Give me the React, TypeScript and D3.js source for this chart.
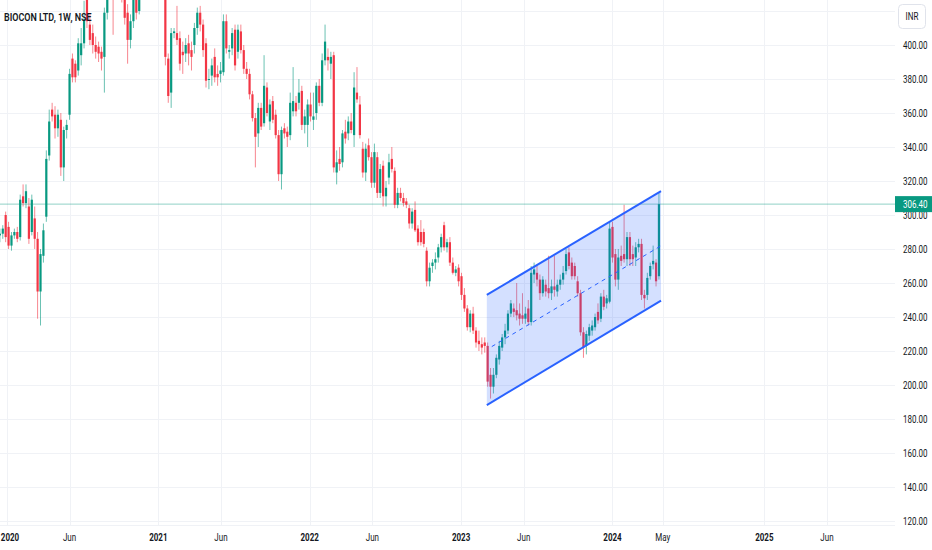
import React from 'react';
import * as d3 from 'd3';

// ---------- DATA ----------
const TITLE = 'BIOCON LTD, 1W, NSE';
const CURRENCY = 'INR';
const FIRST_WEEK = '2019-12-16';
const LAST_PRICE = 306.4;

// weekly candles [open, high, low, close]
const candles2020: number[][] = [
  [288,292,284,289],[289,294,286,292],[300,302,284,287],[293,296,280,282],[282,290,279,288],
  [288,292,286,290],[290,293,284,286],[287,312,285,309],[311,318,305,307],[307,318,304,314],
  [305,310,283,286],[290,312,288,309],[298,305,280,286],[286,290,239,255],[255,280,235,277],
  [276,295,272,291],[299,338,296,333],[335,362,332,355],[362,366,355,358],[359,364,345,351],
  [351,362,346,359],[356,360,323,328],[328,352,320,350],[350,356,345,353],[359,386,356,383],
  [392,395,378,381],[389,391,378,381],[385,404,382,401],[394,410,388,401],[401,426,398,415],
  [440,445,410,414],[412,418,400,403],[407,412,395,400],[400,405,392,396],[399,402,390,395],
  [396,399,385,392],[393,422,372,419],[419,448,415,440],[440,460,432,452],[452,458,406,432],
  [432,455,428,448],[448,452,430,438],[438,445,425,430],[428,435,412,416],[419,424,389,403],
  [403,418,398,414],[414,440,410,432],[432,438,415,419],[420,445,418,440],[440,460,436,455],
  [455,475,450,468],[468,478,452,458],[458,470,450,465],[465,472,445,450],[450,458,432,440],
];
const candles2021: number[][] = [
  [440,465,436,458],[458,462,440,445],[445,450,388,393],[392,395,366,370],[372,410,363,407],
  [407,410,404,408],[407,423,400,403],[404,408,385,389],[396,402,383,394],[395,404,390,400],
  [401,406,388,395],[397,402,385,393],[400,413,395,410],[410,422,406,419],[419,423,408,412],
  [412,415,393,397],[401,404,375,379],[380,386,374,380],[382,392,376,388],[393,398,378,381],
  [383,388,376,381],[383,390,378,385],[384,418,382,414],[414,418,395,398],[396,400,392,397],
  [398,410,394,407],[409,412,385,388],[396,412,392,409],[408,412,395,397],[397,400,383,386],
  [386,390,380,383],[383,386,368,371],[371,373,355,357],[357,360,328,346],[348,366,340,363],
  [363,366,350,352],[354,394,352,376],[375,378,358,360],[355,368,350,365],[367,370,354,356],
  [359,362,345,347],[347,350,320,324],[324,352,315,350],[351,354,345,348],[349,352,340,346],
  [347,372,344,366],[361,387,358,367],[366,370,358,361],[366,380,362,372],[373,376,350,353],
  [353,362,348,358],[353,368,340,365],
];
const candles2022: number[][] = [
  [365,372,355,358],[356,372,350,358],[360,378,356,376],[376,380,364,366],[366,395,364,391],
  [391,412,388,402],[393,398,385,391],[389,396,380,393],[394,396,325,328],[325,338,318,331],
  [333,340,326,330],[331,350,328,348],[349,356,342,345],[348,358,344,355],[355,360,348,350],
  [347,384,340,375],[372,387,366,368],[365,370,345,347],[339,343,322,325],[325,342,320,339],
  [341,345,332,334],[334,337,316,319],[319,342,316,337],[334,337,310,313],[313,330,310,327],
  [329,332,305,311],[311,320,305,316],[322,336,318,331],[333,340,325,327],[326,328,304,306],
  [306,316,304,313],[313,316,308,310],[310,313,305,307],[308,310,304,306],[304,306,292,295],
  [295,304,292,302],[303,308,290,291],[292,294,282,284],[290,297,282,284],[290,292,281,283],
  [279,281,258,261],[261,272,258,269],[270,274,266,272],[272,278,268,274],[275,283,272,281],
  [281,289,278,287],[294,296,279,281],[281,286,278,284],[284,287,270,272],[272,275,265,266],
  [266,270,264,268],[269,271,258,261],
];
const candles2023: number[][] = [
  [264,266,250,253],[253,257,243,245],[245,247,232,234],[234,244,231,242],[242,246,230,232],
  [232,234,222,225],[226,232,220,224],[224,228,218,222],[225,228,219,223],[223,225,199,202],
  [206,210,192,199],[199,210,195,206],[206,218,204,216],[215,226,212,223],[222,230,220,228],
  [228,236,224,232],[232,244,230,242],[242,250,240,248],[245,248,240,243],[244,260,238,241],
  [242,248,235,239],[241,254,236,239],[239,246,236,242],[245,250,235,237],[237,270,235,266],
  [265,272,260,268],[266,270,258,262],[262,265,250,254],[254,264,252,262],[259,262,252,255],
  [257,276,251,254],[254,262,250,258],[258,276,252,256],[255,262,252,259],[259,265,256,262],
  [262,270,259,266],[267,280,265,277],[278,281,268,270],[272,275,262,264],[270,272,262,264],
  [261,264,252,254],[254,256,229,231],[231,234,216,222],[223,232,218,230],[229,236,226,234],
  [232,238,229,235],[234,242,232,240],[243,248,236,238],[239,254,237,252],[252,256,244,246],
  [248,253,245,251],[249,296,248,292],
];
const candles2024: number[][] = [
  [293,296,272,275],[277,280,258,262],[262,280,256,275],[276,282,270,273],[277,306,272,274],
  [274,290,270,287],[287,290,270,274],[277,282,270,274],[275,284,270,281],[281,286,278,283],
  [283,286,250,253],[253,256,245,251],[253,266,250,263],[264,272,262,270],[271,282,268,273],
  [272,274,258,261],[264,313,262,306.4],
];

const priceTicks = [120,140,160,180,200,220,240,260,280,300,320,340,360,380,400];
const gridPrices = [120,140,160,180,200,220,240,260,280,300,320,340,360,380,400,420];

const timeTickDates = ['2020-01-01','2020-06-01','2021-01-01','2021-06-01','2022-01-01','2022-06-01',
  '2023-01-01','2023-06-01','2024-01-01','2024-05-01','2025-01-01','2025-06-01'];
const timeTickLabels = ['2020','Jun','2021','Jun','2022','Jun','2023','Jun','2024','May','2025','Jun'];

const channelDates = ['2023-03-04','2024-04-27'];
const channelUpper = [253, 314];
const channelLower = [188.2, 249.6];
const channelMidDates = ['2023-03-16','2024-04-27'];
const channelMid = [222.6, 281.9];

// ---------- CHART ----------
const W = 932, H = 550;
const PLOT_R = 895, PLOT_B = 525;
const UP = '#089981', DOWN = '#f23645';
const FONT = "Roboto, 'Noto Sans', sans-serif";
const SQ = 0.8; // horizontal squeeze for the narrow TradingView look

const parse = (s: string) => new Date(s + 'T00:00:00Z');

function NText(props: { x: number; y: number; sx?: number; anchor?: string; size: number; weight?: number; fill: string; children: React.ReactNode }) {
  const { x, y, sx = SQ, anchor = 'start', size, weight = 400, fill, children } = props;
  return (
    <text transform={`translate(${x},${y}) scale(${sx},1)`} dy="0.35em" textAnchor={anchor}
      fontSize={size} fontWeight={weight} fill={fill}>{children}</text>
  );
}

export default function App() {
  const x = d3.scaleUtc().domain([parse('2020-01-01'), parse('2025-01-01')]).range([6.5, 764.3]);
  const y = d3.scaleLinear().domain([120, 400]).range([521, 45]);

  const all = [...candles2020, ...candles2021, ...candles2022, ...candles2023, ...candles2024];
  const start = parse(FIRST_WEEK);
  const bars = all.map((c, i) => ({
    date: d3.utcDay.offset(start, i * 7),
    o: c[0], h: c[1], l: c[2], c: c[3],
  }));

  const cx0 = x(parse(channelDates[0])), cx1 = x(parse(channelDates[1]));
  const fillPts = [
    [cx0, y(channelUpper[0])], [cx1, y(channelUpper[1])],
    [cx1, y(channelLower[1])], [cx0, y(channelLower[0])],
  ].map(p => p.join(',')).join(' ');

  const yLast = y(LAST_PRICE);

  return (
    <svg width={W} height={H} style={{ position: 'fixed', left: 0, top: 0, background: '#fff' }}
      fontFamily={FONT}>
      <defs>
        <clipPath id="plot"><rect x={0} y={0} width={PLOT_R} height={PLOT_B} /></clipPath>
        <clipPath id="axisY"><rect x={PLOT_R} y={0} width={W - PLOT_R} height={PLOT_B} /></clipPath>
      </defs>
      <rect x={0} y={0} width={W} height={H} fill="#fff" />
      {/* grid */}
      <g stroke="#f0f2f6" strokeWidth={1}>
        {gridPrices.map(v => (
          <line key={v} x1={0} x2={PLOT_R} y1={Math.round(y(v)) + 0.5} y2={Math.round(y(v)) + 0.5} />
        ))}
        {timeTickDates.map(d => {
          const xx = Math.round(x(parse(d))) + 0.5;
          return <line key={d} x1={xx} x2={xx} y1={0} y2={PLOT_B} />;
        })}
      </g>
      {/* last price line */}
      <line x1={0} x2={PLOT_R} y1={yLast} y2={yLast} stroke={UP} strokeOpacity={0.45} strokeWidth={1} />
      {/* candles */}
      <g clipPath="url(#plot)">
        {bars.map((b, i) => {
          const cx = x(b.date);
          const col = b.c >= b.o ? UP : DOWN;
          const top = y(Math.max(b.o, b.c));
          const bot = y(Math.min(b.o, b.c));
          return (
            <g key={i}>
              <line x1={cx} x2={cx} y1={y(b.h)} y2={y(b.l)} stroke={col} strokeOpacity={0.6} strokeWidth={1} />
              <rect x={cx - 1.1} y={top} width={2.2} height={Math.max(1, bot - top)} fill={col} />
            </g>
          );
        })}
        {/* channel */}
        <polygon points={fillPts} fill="#2962ff" fillOpacity={0.2} />
        <line x1={cx0} y1={y(channelUpper[0])} x2={cx1} y2={y(channelUpper[1])} stroke="#2962ff" strokeWidth={2} />
        <line x1={cx0} y1={y(channelLower[0])} x2={cx1} y2={y(channelLower[1])} stroke="#2962ff" strokeWidth={2} />
        <line x1={x(parse(channelMidDates[0]))} y1={y(channelMid[0])} x2={x(parse(channelMidDates[1]))}
          y2={y(channelMid[1])} stroke="#2962ff" strokeWidth={1} strokeDasharray="4 4" />
      </g>
      {/* title */}
      <NText x={4} y={17} sx={0.78} size={11.5} weight={600} fill="#131722">{TITLE}</NText>
      {/* y axis */}
      <g clipPath="url(#axisY)">
        {priceTicks.map(v => (
          <NText key={v} x={903} y={y(v)} size={10} fill="#131722">{v.toFixed(2)}</NText>
        ))}
      </g>
      <rect x={PLOT_R} y={yLast - 8} width={W - PLOT_R} height={16} fill={UP} />
      <NText x={903} y={yLast} size={10} fill="#fff">{LAST_PRICE.toFixed(2)}</NText>
      <rect x={898.5} y={4.5} width={27} height={24} rx={4} fill="#fff" stroke="#e0e3eb" />
      <NText x={912} y={16.5} anchor="middle" size={10} fill="#131722">{CURRENCY}</NText>
      {/* x axis */}
      <line x1={0} x2={PLOT_R} y1={PLOT_B + 0.5} y2={PLOT_B + 0.5} stroke="#f0f2f6" />
      {timeTickDates.map((d, i) => (
        <NText key={d} x={Math.max(x(parse(d)), 10)} y={537} anchor="middle" size={10}
          weight={/^\d+$/.test(timeTickLabels[i]) ? 700 : 400} fill="#131722">{timeTickLabels[i]}</NText>
      ))}
    </svg>
  );
}
